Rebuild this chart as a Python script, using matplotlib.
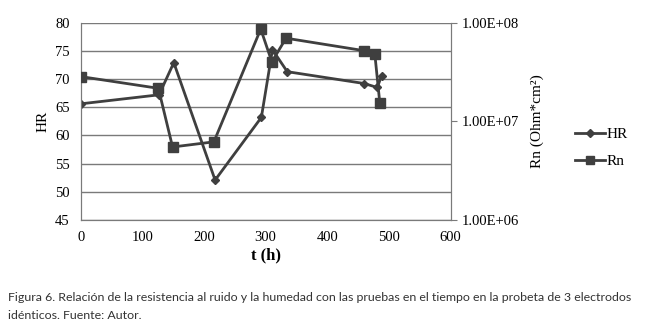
import matplotlib
matplotlib.use("Agg")
import matplotlib.pyplot as plt
from matplotlib.ticker import FixedLocator, FuncFormatter, NullLocator
from matplotlib.lines import Line2D
import math

# data
t_hr = [0, 127, 151, 218, 293, 311, 335, 460, 481, 488]
hr = [65.6, 67.2, 72.9, 52.1, 63.2, 75.2, 71.3, 69.2, 68.5, 70.6]

t_rn = [0, 126, 149, 216, 292, 310, 333, 459, 477, 485]
rn = [2.84e7, 2.16e7, 5.5e6, 6.2e6, 8.6e7, 4.0e7, 6.95e7, 5.2e7, 4.8e7, 1.55e7]

x_ticks = [0, 100, 200, 300, 400, 500, 600]
hr_ticks = [45, 50, 55, 60, 65, 70, 75, 80]
rn_ticks = [1e6, 1e7, 1e8]

serif = "Liberation Serif"
line_col = "#3f3f3f"
grid_col = "#7a7a7a"

fig = plt.figure(figsize=(6.56, 3.32), dpi=100)
ax = fig.add_axes([0.123, 0.337, 0.564, 0.595])

# humidity on the left axis
ax.plot(t_hr, hr, color=line_col, lw=2, marker="D", ms=4.5, mfc=line_col, mec=line_col, zorder=3)
ax.set_xlim(0, 600)
ax.set_ylim(45, 80)
ax.set_xticks(x_ticks)
ax.set_yticks(hr_ticks)
ax.grid(axis="y", color=grid_col, lw=1)
ax.set_axisbelow(True)
ax.tick_params(length=0, labelsize=10.5, pad=8)
for lab in ax.get_xticklabels() + ax.get_yticklabels():
    lab.set_fontfamily(serif)
ax.set_xlabel("t (h)", fontfamily=serif, fontsize=12, fontweight="semibold", labelpad=2)
ax.set_ylabel("HR", fontfamily=serif, fontsize=11, labelpad=4)
for side in ["left", "bottom", "right"]:
    ax.spines[side].set_color(grid_col)
ax.spines["top"].set_visible(False)

# noise resistance on the right, log scale
ax2 = ax.twinx()
ax2.plot(t_rn, rn, color=line_col, lw=2, marker="s", ms=7, mfc=line_col, mec=line_col, zorder=3)
ax2.set_yscale("log")
ax2.set_ylim(1e6, 1e8)
ax2.yaxis.set_major_locator(FixedLocator(rn_ticks))
ax2.yaxis.set_minor_locator(NullLocator())
ax2.yaxis.set_major_formatter(FuncFormatter(lambda v, p: "1.00E+%02d" % round(math.log10(v))))
ax2.tick_params(axis="y", length=4, color=grid_col, labelsize=10.5, pad=4)
for lab in ax2.get_yticklabels():
    lab.set_fontfamily(serif)
ax2.set_ylabel("Rn (Ohm*cm²)", fontfamily=serif, fontsize=11, labelpad=8)
for side in ["left", "bottom", "right"]:
    ax2.spines[side].set_color(grid_col)
ax2.spines["top"].set_visible(False)

handles = [
    Line2D([], [], color=line_col, lw=2, marker="D", ms=4.5),
    Line2D([], [], color=line_col, lw=2, marker="s", ms=6),
]
fig.legend(handles, ["HR", "Rn"], loc="center left", bbox_to_anchor=(0.855, 0.555),
           frameon=False, handlelength=2.0, handletextpad=0.1, labelspacing=0.9,
           prop={"family": serif, "size": 11})

caption = ("Figura 6. Relación de la resistencia al ruido y la humedad con las pruebas en el tiempo en la probeta de 3 electrodos\n"
           "idénticos. Fuente: Autor.")
fig.text(0.012, 0.12, caption, fontfamily="Lato", fontsize=8.9, color="#333333",
         va="top", ha="left", linespacing=1.75)

fig.savefig("out.png", dpi=100)
